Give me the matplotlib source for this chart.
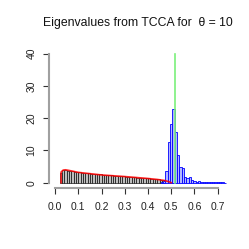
import numpy as np
import matplotlib
matplotlib.use("Agg")
import matplotlib.pyplot as plt

plt.rcParams['font.family'] = ['Liberation Sans', 'DejaVu Sans']

# gray histogram (left part), bins of width 0.01 starting at 0.02
gray_left = 0.02
gray_heights = [3.1, 3.8, 3.8, 3.7, 3.6, 3.5, 3.4, 3.3, 3.2, 3.1,
                3.0, 3.0, 2.9, 2.8, 2.8, 2.7, 2.6, 2.6, 2.5, 2.5,
                2.4, 2.3, 2.3, 2.2, 2.2, 2.1, 2.0, 2.0, 1.9, 1.9,
                1.8, 1.7, 1.7, 1.6, 1.6, 1.5, 1.4, 1.4, 1.3, 1.2,
                1.2, 1.1, 1.0, 0.9, 0.7]

# blue histogram (outliers), bins of width 0.01 starting at 0.455
blue_left = 0.455
blue_heights = [0.3, 0.5, 3.6, 12.5, 18.2, 22.7, 15.8, 8.6, 5.0, 4.5,
                1.9, 1.4, 1.9, 0.8, 0.4, 0.3, 0.4, 0.3, 0.2, 0.2,
                0.2, 0.1, 0.1, 0.1, 0.1, 0.1, 0.1, 0.05]
bin_w = 0.01

# theoretical density (red)
curve_x = [0.026, 0.026, 0.035, 0.045, 0.06, 0.08, 0.10, 0.15, 0.20, 0.25,
           0.30, 0.35, 0.40, 0.44, 0.47, 0.49, 0.50]
curve_y = [0.0, 3.3, 3.9, 4.0, 3.8, 3.5, 3.2, 2.8, 2.4, 2.15,
           1.9, 1.6, 1.3, 1.0, 0.7, 0.3, 0.0]

theta_line = 0.517
theta_top = 40

fig = plt.figure(figsize=(2.49, 2.49), dpi=100)
ax = fig.add_axes([49/249, 1-188/249, (227-49)/249, (188-45)/249])

gx = gray_left + bin_w*np.arange(len(gray_heights))
ax.bar(gx, gray_heights, width=bin_w, align='edge', color='#BEBEBE',
       edgecolor='black', linewidth=0.45)
ax.plot(curve_x, curve_y, color='red', lw=1.2, alpha=0.85)

bx = blue_left + bin_w*np.arange(len(blue_heights))
ax.bar(bx, blue_heights, width=bin_w, align='edge', color=(0.7, 0.72, 1.0),
       edgecolor='blue', linewidth=0.6)
ax.plot([theta_line, theta_line], [0, theta_top], color='#7CF07C', lw=1.2)

ax.set_xlim(-0.026, 0.74)
ax.set_ylim(-1.65, 42.7)

for s in ['top', 'right']:
    ax.spines[s].set_visible(False)
ax.spines['bottom'].set_bounds(0, 0.7)
ax.spines['left'].set_bounds(0, 40)
for s in ['bottom', 'left']:
    ax.spines[s].set_color('#A0A0A0')
    ax.spines[s].set_linewidth(1.5)

ax.set_xticks(np.arange(0, 0.71, 0.1))
ax.set_xticklabels(["%.1f" % v for v in np.arange(0, 0.71, 0.1)])
ax.set_yticks([0, 10, 20, 30, 40])
ax.set_yticklabels(['0', '10', '20', '30', '40'], rotation=90, va='center')
ax.tick_params(axis='both', length=4, width=0.8, color='#333333',
               labelsize=7.5, labelcolor='#222222')
ax.tick_params(axis='x', pad=6)
ax.tick_params(axis='y', pad=5)

fig.text(138/249, 1-23/249, "Eigenvalues from TCCA for  θ = 10",
         ha='center', va='center', fontsize=8.8, color='#111111')

fig.savefig("out.png", dpi=100)
